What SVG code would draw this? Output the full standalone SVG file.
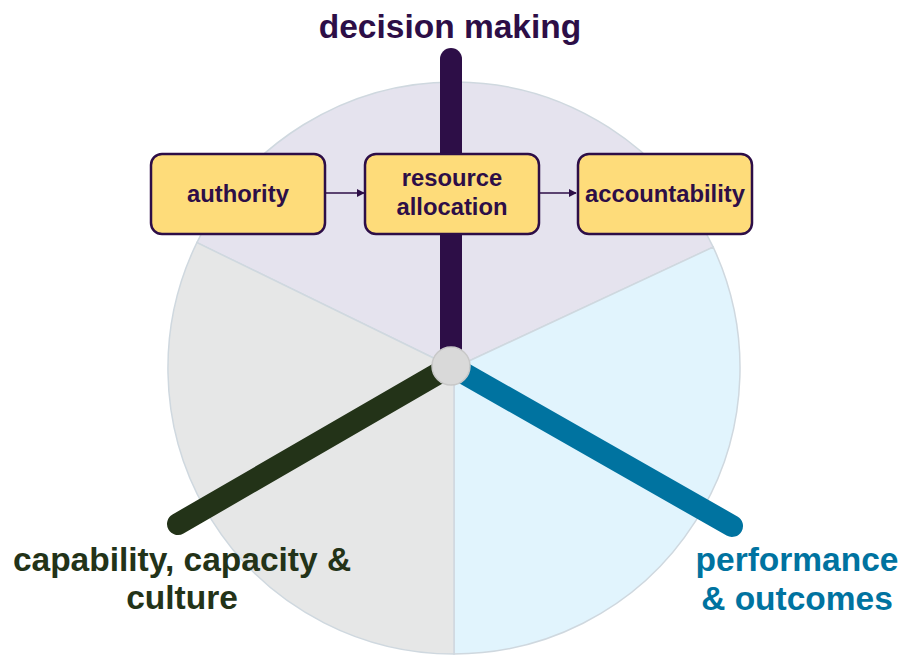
<svg xmlns="http://www.w3.org/2000/svg" width="900" height="655" viewBox="0 0 900 655">
  <defs>
    <style>
      .sector { stroke: #cfd8df; stroke-width: 1.5; }
      .spoke { fill: none; stroke-width: 22; stroke-linecap: round; }
      .box { fill: #fedc7a; stroke: #2d0e47; stroke-width: 2.5; }
      .box-text { font-family: "Liberation Sans", Arial, sans-serif; font-weight: bold; font-size: 23.8px; fill: #2d0e47; text-anchor: middle; }
      .axis-label { font-family: "Liberation Sans", Arial, sans-serif; font-weight: bold; font-size: 33.5px; text-anchor: middle; }
      .link { fill: none; stroke: #2d0e47; stroke-width: 1.6; }
    </style>
    <marker id="arrowhead" viewBox="0 0 10 10" refX="9" refY="5" markerWidth="5" markerHeight="5" orient="auto" markerUnits="strokeWidth">
      <path d="M0,0 L10,5 L0,10 Z" fill="#2d0e47"/>
    </marker>
  </defs>

  <rect width="900" height="655" fill="#ffffff"/>

  <!-- pie background: three segments -->
  <g id="segments">
    <path class="sector" d="M454,368 L196.9,242.6 A286,286 0 0,1 713.2,247.1 Z" fill="#e5e3ee"/>
    <path class="sector" d="M454,368 L713.2,247.1 A286,286 0 0,1 454,654 Z" fill="#e1f4fd"/>
    <path class="sector" d="M454,368 L454,654 A286,286 0 0,1 196.9,242.6 Z" fill="#e6e7e7"/>
  </g>

  <!-- axes radiating from the hub -->
  <g id="axes">
    <line class="spoke" x1="451" y1="366" x2="451" y2="59" stroke="#2d0e47"/>
    <line class="spoke" x1="451" y1="366" x2="178" y2="524" stroke="#233318"/>
    <line class="spoke" x1="451" y1="366" x2="732" y2="526" stroke="#0073a0"/>
    <circle id="hub" cx="451" cy="366" r="19" fill="#d9d9d9" stroke="#c8c8c8" stroke-width="1.5"/>
  </g>

  <!-- axis labels -->
  <g id="label-decision-making">
    <text class="axis-label" x="450" y="38" fill="#2d0e47">decision making</text>
  </g>
  <g id="label-capability">
    <text class="axis-label" x="182" y="571" fill="#233318">capability, capacity &amp;</text>
    <text class="axis-label" x="182" y="609" fill="#233318">culture</text>
  </g>
  <g id="label-performance">
    <text class="axis-label" x="797" y="571" fill="#0073a0">performance</text>
    <text class="axis-label" x="797" y="610" fill="#0073a0">&amp; outcomes</text>
  </g>

  <!-- connectors between the process boxes -->
  <g id="connectors">
    <line class="link" x1="325" y1="193" x2="364" y2="193" marker-end="url(#arrowhead)"/>
    <line class="link" x1="539" y1="193" x2="576" y2="193" marker-end="url(#arrowhead)"/>
  </g>

  <!-- process boxes -->
  <g id="authority">
    <rect class="box" x="151" y="154" width="174" height="80" rx="11"/>
    <text class="box-text" x="238" y="202">authority</text>
  </g>
  <g id="resource-allocation">
    <rect class="box" x="365" y="154" width="174" height="80" rx="11"/>
    <text class="box-text" x="452" y="186">resource</text>
    <text class="box-text" x="452" y="215">allocation</text>
  </g>
  <g id="accountability">
    <rect class="box" x="578" y="154" width="174" height="80" rx="11"/>
    <text class="box-text" x="665" y="202">accountability</text>
  </g>
</svg>
